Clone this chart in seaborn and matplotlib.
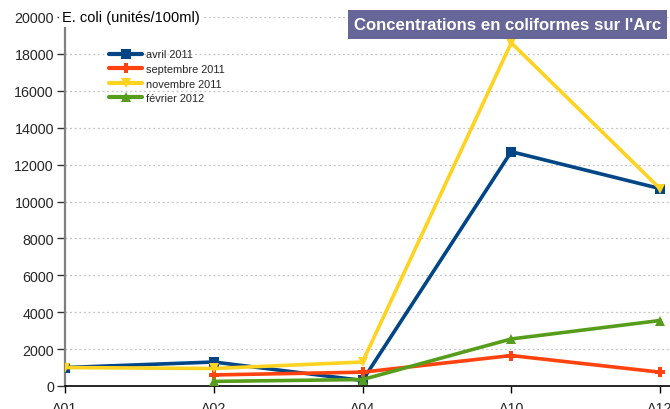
import numpy as np
import pandas as pd
import matplotlib
matplotlib.use("Agg")
import matplotlib.pyplot as plt
from matplotlib.patches import Rectangle
import seaborn as sns

sites = ["A01", "A02", "A04", "A10", "A12"]
avril_2011 = [1000, 1300, 300, 12700, 10700]
septembre_2011 = [np.nan, 600, 750, 1650, 750]
novembre_2011 = [1000, 950, 1300, 18600, 10700]
fevrier_2012 = [np.nan, 250, 350, 2550, 3550]
series_names = ["avril 2011", "septembre 2011", "novembre 2011", "février 2012"]
y_ticks = list(range(0, 20001, 2000))

colors = {"avril 2011": "#004586", "septembre 2011": "#ff420e",
          "novembre 2011": "#ffd320", "février 2012": "#579d1c"}
markers = {"avril 2011": "s", "septembre 2011": "P",
           "novembre 2011": "v", "février 2012": "^"}

rows = []
for name, vals in zip(series_names, [avril_2011, septembre_2011, novembre_2011, fevrier_2012]):
    for i, (s, v) in enumerate(zip(sites, vals)):
        if not np.isnan(v):
            rows.append({"pos": i, "site": s, "valeur": v, "campagne": name})
df = pd.DataFrame(rows)

sns.set_style("white")
plt.rcParams["font.family"] = ["Liberation Sans", "DejaVu Sans"]

W, H = 670, 410
fig = plt.figure(figsize=(W / 100, H / 100), dpi=100)
ax = fig.add_axes([65 / W, 23 / H, 605 / W, 369 / H])

sns.lineplot(data=df, x="pos", y="valeur", hue="campagne", style="campagne",
             hue_order=series_names, style_order=series_names,
             palette=colors, markers=markers, dashes=False,
             linewidth=2.6, markersize=7.5, markeredgewidth=0,
             ax=ax, legend=True, zorder=3)

ax.set_xlim(0, 4 + 10 / 148.75)
ax.set_ylim(0, 20000)
ax.set_xticks(range(len(sites)))
ax.set_xticklabels(sites)
ax.set_yticks(y_ticks)
ax.set_xlabel("")
ax.set_ylabel("")

ax.grid(axis="y", color="#c4c4c4", linestyle=(0, (1.5, 2.2)), linewidth=0.9)
ax.grid(axis="x", visible=False)
ax.set_axisbelow(True)

for side in ["top", "right"]:
    ax.spines[side].set_visible(False)
ax.spines["left"].set_color("#808080")
ax.spines["left"].set_linewidth(1.6)
ax.spines["bottom"].set_color("#000000")
ax.spines["bottom"].set_linewidth(1.2)

ax.tick_params(axis="y", direction="out", length=6, width=1, color="#333333",
               labelsize=10.3, pad=2, left=True)
ax.tick_params(axis="x", direction="out", length=5, width=1, color="#000000",
               labelsize=10.3, pad=6, bottom=True)

# unit label sitting on the top gridline, next to the 20000 tick
ax.text(-3 / 605, 20000, "E. coli (unités/100ml)", transform=ax.get_yaxis_transform(),
        ha="left", va="center", fontsize=10.5, color="#000000",
        bbox=dict(facecolor="white", edgecolor="none", pad=2), zorder=5)

# title banner
fig.patches.append(Rectangle((348 / W, 1 - 40 / H), 319 / W, 29 / H,
                             transform=fig.transFigure, facecolor="#666699",
                             edgecolor="none", zorder=9))
fig.text(507.5 / W, 1 - 25.5 / H, "Concentrations en coliformes sur l'Arc",
         ha="center", va="center", fontsize=12.1, fontweight="bold", color="white",
         zorder=10)

leg = ax.legend(loc="upper left", bbox_to_anchor=(40 / 605, 1 - 28 / 369),
                frameon=False, fontsize=7.9, handlelength=3.0, handletextpad=0.35,
                labelspacing=0.42, borderaxespad=0)
for h in leg.get_lines():
    h.set_linewidth(3)

fig.savefig("out.png", dpi=100)
